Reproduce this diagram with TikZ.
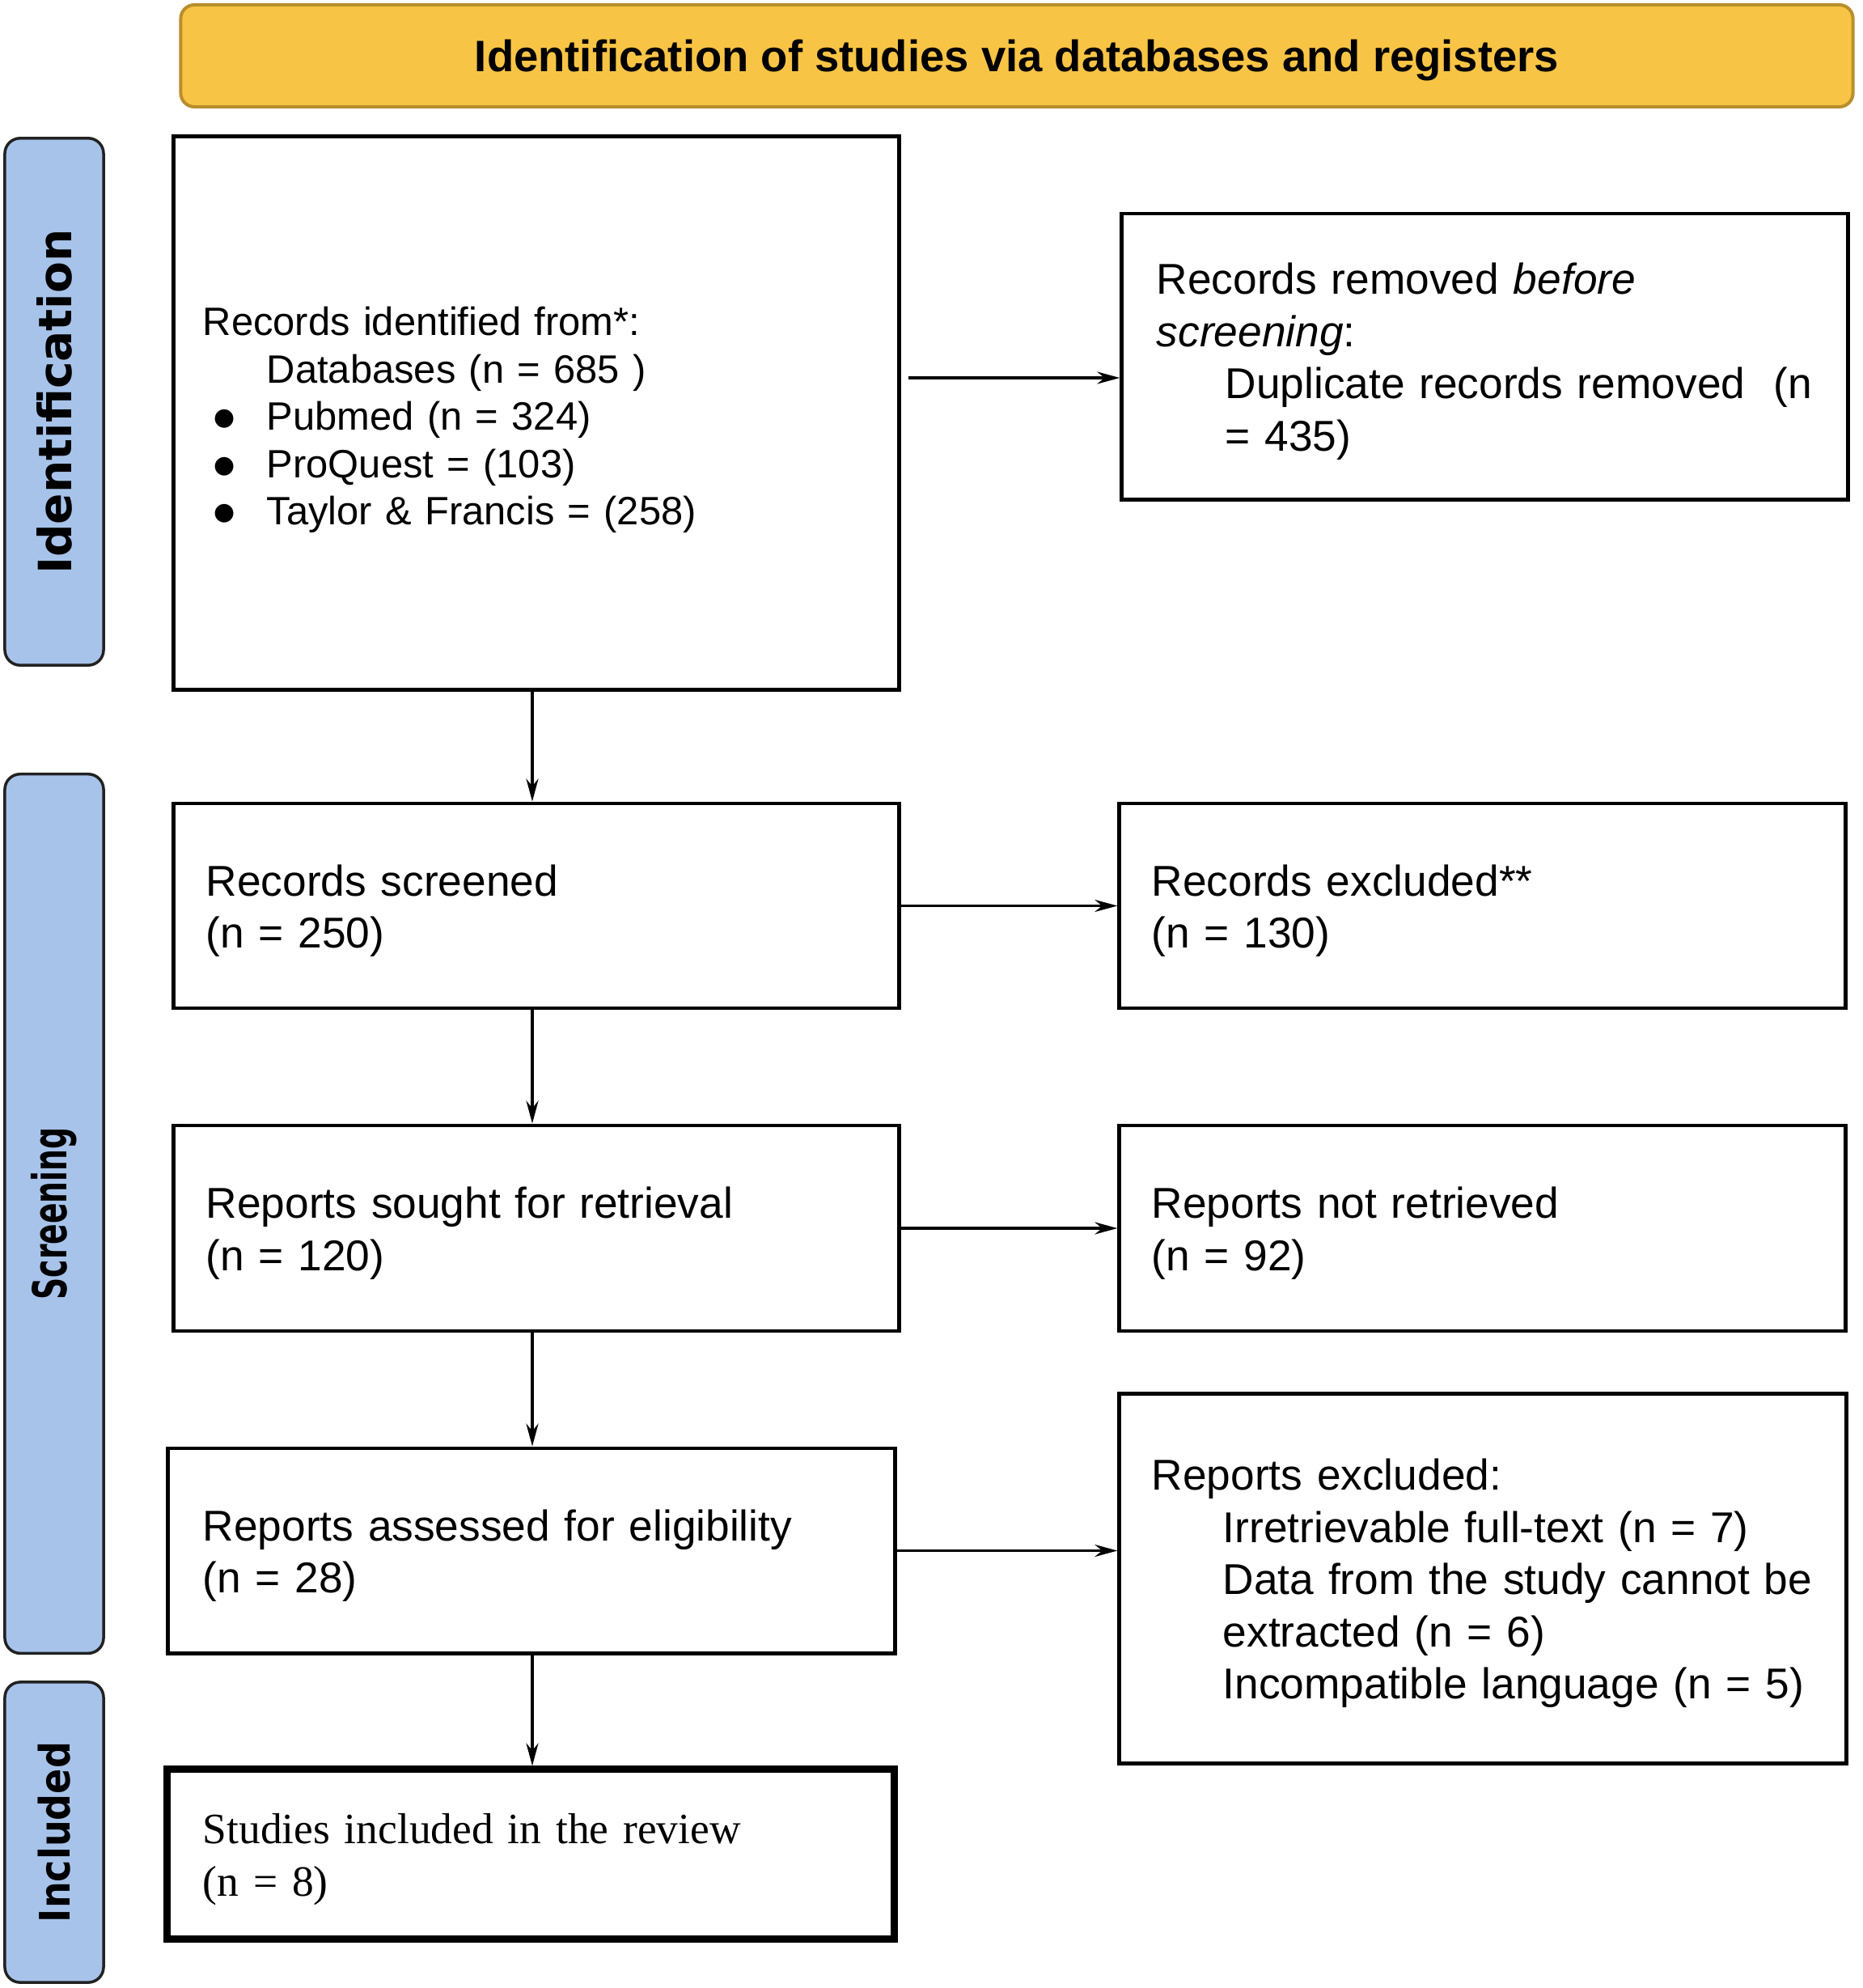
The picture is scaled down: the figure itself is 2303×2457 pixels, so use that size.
\documentclass[tikz,border=0pt]{standalone}
\usepackage{fontspec}
\setmainfont{Liberation Sans}
\newfontfamily\serifbox{Liberation Serif}
\newfontfamily\labfont{DejaVu Sans}
\usetikzlibrary{arrows.meta}
\definecolor{hdrfill}{HTML}{F8C445}
\definecolor{hdrline}{HTML}{B88F2C}
\definecolor{sidefill}{HTML}{A7C3EA}
\definecolor{sideline}{HTML}{222222}
\newcommand\tpstr{\rule{0pt}{0.95em}}
\newcommand\tpstrb{\rule{0pt}{1.07em}}
\newcommand\mainsz{\fontsize{15.15pt}{18.35pt}\selectfont}
\newcommand\smallsz{\fontsize{13.9pt}{16.65pt}\selectfont}
\newcommand\bul{\makebox[0.79cm][l]{\hspace{0.14cm}\raisebox{0.06cm}{\labfont\fontsize{8.5pt}{9pt}\selectfont ●}}}
\newcommand\ind[1]{\mbox{\hspace*{#1}}}
\begin{document}
\begin{tikzpicture}[x=0.01cm,y=-0.01cm,
  box/.style={draw=black, line width=0.048cm, rectangle, align=left, font=\mainsz, anchor=center, inner ysep=0pt},
  side/.style={draw=sideline, fill=sidefill, line width=0.035cm, rounded corners=0.19cm, rotate=90, anchor=center, inner sep=0pt},
  arr/.style={line width=0.032cm, -{Stealth[length=0.28cm,width=0.15cm]}}
]
\useasboundingbox (0,0) rectangle (2303,2457);

% header
\node[draw=hdrline, fill=hdrfill, line width=0.04cm, rounded corners=0.17cm,
      minimum width=20.66cm, minimum height=1.26cm, inner sep=0pt, text depth=0pt,
      font=\bfseries\fontsize{15.48pt}{18pt}\selectfont] (hdr) at (1257,69)
      {Identification of studies via databases and registers};

% side labels
\node[side, minimum width=6.51cm, minimum height=1.22cm] (labid) at (67,496.5)
  {\labfont\bfseries\fontsize{16.1pt}{18pt}\selectfont Identification};
\node[side, minimum width=10.86cm, minimum height=1.22cm] (labscr) at (67,1500)
  {\labfont\bfseries\fontsize{16.5pt}{18pt}\selectfont\scalebox{0.65}[1]{Screening}};
\node[side, minimum width=3.71cm, minimum height=1.22cm] (labinc) at (67,2264.5)
  {\labfont\bfseries\fontsize{14.8pt}{18pt}\selectfont\scalebox{0.885}[1]{Included}};

% boxes
\node[box, font=\smallsz, text width=8.24cm, inner xsep=0.36cm, minimum height=6.83cm] (recid) at (663,510.5)
  {\tpstrb Records identified from*:\\
   \ind{0.79cm}Databases (n = 685 )\\
   \mbox{\bul Pubmed (n = 324)}\\
   \mbox{\bul ProQuest = (103)}\\
   \mbox{\bul Taylor \& Francis = (258)}};

\node[box, text width=8.11cm, inner xsep=0.43cm, minimum height=3.53cm] (removed) at (1835.5,440.5)
  {\tpstr Records removed \textit{before}\\
   \textit{screening}:\\
   \mbox{\hspace*{0.85cm}Duplicate records removed\ \ (n}\\
   \mbox{\hspace*{0.85cm}= 435)}};

\node[box, text width=8.16cm, inner xsep=0.40cm, minimum height=2.53cm] (screened) at (663,1119.5)
  {\tpstr Records screened\\(n = 250)};
\node[box, text width=8.17cm, inner xsep=0.40cm, minimum height=2.53cm] (excl) at (1832.5,1119.5)
  {\tpstr Records excluded**\\(n = 130)};

\node[box, text width=8.16cm, inner xsep=0.40cm, minimum height=2.54cm] (sought) at (663,1518)
  {\tpstr Reports sought for retrieval\\(n = 120)};
\node[box, text width=8.17cm, inner xsep=0.40cm, minimum height=2.54cm] (notret) at (1832.5,1518)
  {\tpstr Reports not retrieved\\(n = 92)};

\node[box, text width=8.12cm, inner xsep=0.43cm, minimum height=2.53cm] (assessed) at (657,1916.5)
  {\tpstr Reports assessed for eligibility\\(n = 28)};
\node[box, text width=8.18cm, inner xsep=0.40cm, minimum height=4.56cm] (repexcl) at (1833,1951)
  {\tpstr Reports excluded:\\
   \mbox{\hspace*{0.88cm}Irretrievable full-text (n = 7)}\\
   \mbox{\hspace*{0.88cm}Data from the study cannot be}\\
   \mbox{\hspace*{0.88cm}extracted (n = 6)}\\
   \mbox{\hspace*{0.88cm}Incompatible language (n = 5)}};

\node[box, line width=0.09cm, font=\serifbox\fontsize{15.2pt}{18.5pt}\selectfont,
      text width=8.10cm, inner xsep=0.44cm, minimum height=2.09cm] (included) at (656,2291.5)
  {\tpstr Studies included in the review\\(n = 8)};

% connectors
\coordinate (col) at (658,0);
\coordinate (row1) at (0,467);
\draw[arr] (recid.south -| col) -- (screened.north -| col);
\draw[arr] (screened.south -| col) -- (sought.north -| col);
\draw[arr] (sought.south -| col) -- (assessed.north -| col);
\draw[arr] (assessed.south -| col) -- (included.north -| col);
\draw[arr, shorten <=0.09cm] (recid.east |- row1) -- (removed.west |- row1);
\draw[arr] (screened.east) -- (excl.west |- screened.east);
\draw[arr] (sought.east) -- (notret.west |- sought.east);
\draw[arr] (assessed.east) -- (repexcl.west |- assessed.east);
\end{tikzpicture}
\end{document}
